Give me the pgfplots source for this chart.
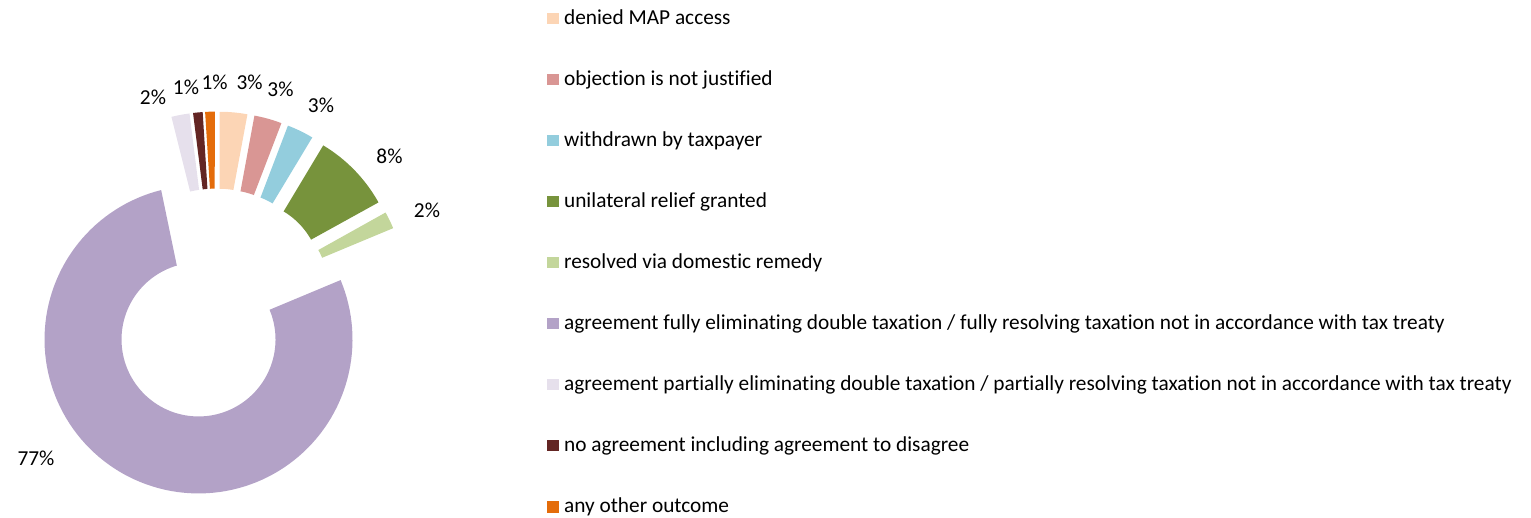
\documentclass[border=0pt]{standalone}
\usepackage{fontspec}
\setmainfont{Carlito}[Ligatures={NoCommon}]
\usepackage{pgfplots}
\pgfplotsset{compat=1.18}
\definecolor{cPeach}{HTML}{FCD5B5}
\definecolor{cPink}{HTML}{D99694}
\definecolor{cBlue}{HTML}{93CDDD}
\definecolor{cGreen}{HTML}{77933C}
\definecolor{cLGreen}{HTML}{C3D69B}
\definecolor{cPurple}{HTML}{B3A2C7}
\definecolor{cLav}{HTML}{E6E0EC}
\definecolor{cBrown}{HTML}{632523}
\definecolor{cOrange}{HTML}{E46C0A}
% sector: start %, end %, colour, legend text  (doughnut, clockwise from 12 o'clock, exploded)
\newcommand{\sector}[4]{%
 \addplot[fill=#3, draw=none, domain=0:2, samples=241]
  ({216 + 39*sin(1.8*(#1+#2)) + ((\x<1.002) ? 154 : 77)*sin(3.6*(((\x<1.002) ? (#1+min(\x,1)*(#2-#1)) : (#2-(\x-1)*(#2-#1)))))},
   {212.4 + 39*cos(1.8*(#1+#2)) + ((\x<1.002) ? 154 : 77)*cos(3.6*(((\x<1.002) ? (#1+min(\x,1)*(#2-#1)) : (#2-(\x-1)*(#2-#1)))))});
 \addlegendentry{#4}
}
\begin{document}
\begin{tikzpicture}
\begin{axis}[
  width=765.5bp, height=258.5bp, scale only axis,
  xmin=0, xmax=1531, ymin=0, ymax=517,
  hide axis, clip=false,
  legend image code/.code={\fill[#1] (0bp,0bp) rectangle (5.8bp,5.6bp);},
  legend style={at={(axis cs:547.3,507.5)}, anchor=north west, draw=none, fill=none,
    inner sep=0pt, outer sep=0pt, row sep=20.5bp,
    font=\fontsize{10.7}{12}\selectfont,
    nodes={inner sep=0pt, text height=7.5bp, text depth=2.5bp},
    cells={anchor=base west},
    /tikz/every odd column/.append style={column sep=2.6bp}},
]
\addplot[draw=none, forget plot] coordinates {(0,0) (1531,517)};
% values (%): 2.9, 2.9, 2.8, 8.3, 1.8, 77.4, 1.9, 1.0, 1.0
\sector{0}{2.9}{cPeach}{denied MAP access}
\sector{2.9}{5.8}{cPink}{objection is not justified}
\sector{5.8}{8.6}{cBlue}{withdrawn by taxpayer}
\sector{8.6}{16.9}{cGreen}{unilateral relief granted}
\sector{16.9}{18.7}{cLGreen}{resolved via domestic remedy}
\sector{18.7}{96.1}{cPurple}{agreement fully eliminating double taxation / fully resolving taxation not in accordance with tax treaty}
\sector{96.1}{98.0}{cLav}{agreement partially eliminating double taxation / partially resolving taxation not in accordance with tax treaty}
\sector{98.0}{99.0}{cBrown}{no agreement including agreement to disagree}
\sector{99.0}{100}{cOrange}{any other outcome}
\begin{scope}[every node/.style={anchor=base, font=\fontsize{10.7}{12}\selectfont, inner sep=0pt}]
\node at (axis cs:153,412) {2\%};
\node at (axis cs:186,422) {1\%};
\node at (axis cs:214.7,427) {1\%};
\node at (axis cs:249.7,427) {3\%};
\node at (axis cs:280.5,420.3) {3\%};
\node at (axis cs:321,404) {3\%};
\node at (axis cs:389.5,353) {8\%};
\node at (axis cs:427,299) {2\%};
\node at (axis cs:36,52) {77\%};
\end{scope}
\end{axis}
\end{tikzpicture}
\end{document}
